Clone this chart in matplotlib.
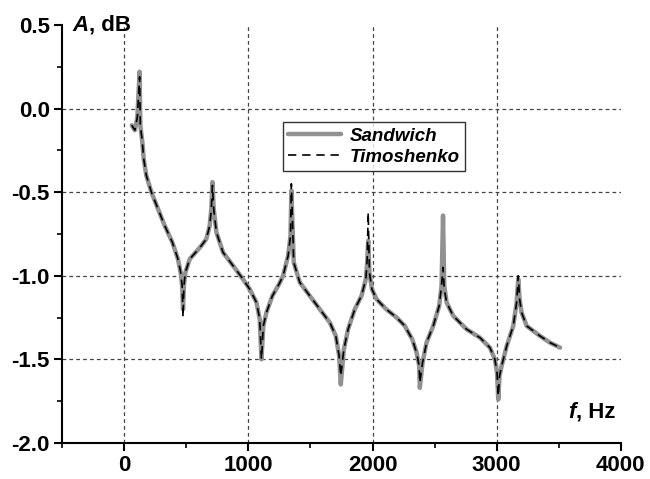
import matplotlib
matplotlib.use("Agg")
import matplotlib.pyplot as plt
from matplotlib.ticker import MultipleLocator, FormatStrFormatter

plt.rcParams["font.family"] = ["Liberation Sans", "DejaVu Sans"]
plt.rcParams["font.weight"] = "bold"

# frequency grid, Hz (denser around resonances / antiresonances)
freq = [60, 85, 105, 123, 129, 145, 156, 177,
        218, 271, 325, 387, 432, 454, 466, 473,
        480, 492, 527, 575, 621, 661, 688, 701,
        710, 720, 742, 795, 876, 956, 1010, 1065,
        1091, 1105, 1120, 1145, 1193, 1247, 1279, 1320,
        1339, 1346, 1365, 1414, 1494, 1575, 1656, 1704,
        1731, 1744, 1769, 1803, 1857, 1911, 1946, 1957,
        1965, 1975, 1995, 2032, 2110, 2194, 2260, 2320,
        2355, 2376, 2381, 2403, 2435, 2489, 2537, 2556,
        2568, 2578, 2597, 2650, 2758, 2865, 2946, 2986,
        3003, 3013, 3023, 3040, 3081, 3134, 3161, 3174,
        3185, 3201, 3242, 3349, 3430, 3511]

# amplitude, dB — sandwich beam model
sandwich = [-0.10, -0.13, -0.05, 0.22, -0.10, -0.20, -0.30, -0.40,
            -0.50, -0.60, -0.70, -0.80, -0.90, -0.98, -1.06, -1.20,
            -1.06, -0.98, -0.90, -0.86, -0.82, -0.78, -0.70, -0.60,
            -0.44, -0.60, -0.74, -0.86, -0.94, -1.02, -1.08, -1.16,
            -1.26, -1.50, -1.30, -1.22, -1.12, -1.05, -1.00, -0.88,
            -0.76, -0.49, -0.92, -1.04, -1.12, -1.20, -1.28, -1.36,
            -1.48, -1.65, -1.44, -1.32, -1.20, -1.12, -1.02, -0.92,
            -0.79, -0.98, -1.08, -1.14, -1.20, -1.25, -1.30, -1.38,
            -1.46, -1.54, -1.67, -1.52, -1.40, -1.30, -1.18, -1.06,
            -0.64, -1.06, -1.16, -1.24, -1.32, -1.37, -1.43, -1.50,
            -1.58, -1.74, -1.60, -1.54, -1.42, -1.30, -1.16, -1.02,
            -1.14, -1.22, -1.30, -1.36, -1.40, -1.43]

# amplitude, dB — Timoshenko beam model
timoshenko = [-0.10, -0.13, -0.05, 0.19, -0.10, -0.20, -0.30, -0.40,
              -0.50, -0.60, -0.70, -0.80, -0.90, -0.98, -1.06, -1.25,
              -1.06, -0.98, -0.90, -0.86, -0.82, -0.78, -0.70, -0.60,
              -0.46, -0.60, -0.74, -0.86, -0.94, -1.02, -1.08, -1.16,
              -1.26, -1.50, -1.30, -1.22, -1.12, -1.05, -1.00, -0.88,
              -0.76, -0.45, -0.92, -1.04, -1.12, -1.20, -1.28, -1.36,
              -1.48, -1.60, -1.44, -1.32, -1.20, -1.12, -1.02, -0.90,
              -0.62, -0.98, -1.08, -1.14, -1.20, -1.25, -1.30, -1.38,
              -1.46, -1.54, -1.64, -1.52, -1.40, -1.30, -1.18, -1.06,
              -0.95, -1.08, -1.16, -1.24, -1.32, -1.37, -1.43, -1.50,
              -1.58, -1.72, -1.60, -1.54, -1.42, -1.30, -1.16, -1.00,
              -1.14, -1.22, -1.30, -1.36, -1.40, -1.43]

grid_x = [0, 1000, 2000, 3000]
grid_y = [0.0, -0.5, -1.0, -1.5]

fig = plt.figure(figsize=(6.5, 4.79), dpi=100)
ax = fig.add_axes([0.0958, 0.0752, 0.955 - 0.0958, 0.948 - 0.0752])

for gx in grid_x:
    ax.axvline(gx, color="#444444", lw=0.9, ls=(0, (3, 2.5)), zorder=1)
for gy in grid_y:
    ax.axhline(gy, color="#444444", lw=0.9, ls=(0, (3, 2.5)), zorder=1)

ax.plot(freq, sandwich, color="#919191", lw=3.2, solid_capstyle="round",
        solid_joinstyle="round", label="Sandwich", zorder=2)
ax.plot(freq, timoshenko, color="black", lw=1.2, dashes=(5, 3.5),
        label="Timoshenko", zorder=3)

ax.set_xlim(-500, 4000)
ax.set_ylim(-2.0, 0.5)
ax.xaxis.set_major_locator(MultipleLocator(1000))
ax.xaxis.set_minor_locator(MultipleLocator(500))
ax.yaxis.set_major_locator(MultipleLocator(0.5))
ax.yaxis.set_minor_locator(MultipleLocator(0.25))
ax.yaxis.set_major_formatter(FormatStrFormatter("%.1f"))

for side in ("top", "right"):
    ax.spines[side].set_visible(False)
for side in ("left", "bottom"):
    ax.spines[side].set_linewidth(1.5)

ax.tick_params(which="major", direction="out", length=6, width=1.5,
               labelsize=16, pad=3.0)
ax.tick_params(which="minor", direction="out", length=3.5, width=1.2)

# axis captions inside the frame
ta = ax.text(0.019, 0.986, "A", transform=ax.transAxes, fontsize=16,
             fontweight="bold", fontstyle="italic", ha="left", va="baseline")
ax.annotate(", dB", xy=(1, 0), xycoords=ta, fontsize=16, fontweight="bold",
            ha="left", va="bottom")
tf = ax.text(0.906, 0.060, "f", transform=ax.transAxes, fontsize=16,
             fontweight="bold", fontstyle="italic", ha="left", va="baseline")
ax.annotate(", Hz", xy=(1, 0), xycoords=tf, fontsize=16, fontweight="bold",
            ha="left", va="bottom")

leg = ax.legend(loc="upper left", bbox_to_anchor=(0.395, 0.768),
                borderaxespad=0, frameon=True, fancybox=False,
                handlelength=2.8, handletextpad=0.45, borderpad=0.3,
                labelspacing=0.2,
                prop={"size": 13.5, "weight": "bold", "style": "italic"})
leg.get_frame().set_edgecolor("black")
leg.get_frame().set_linewidth(1.0)

fig.savefig("out.png", dpi=100)
